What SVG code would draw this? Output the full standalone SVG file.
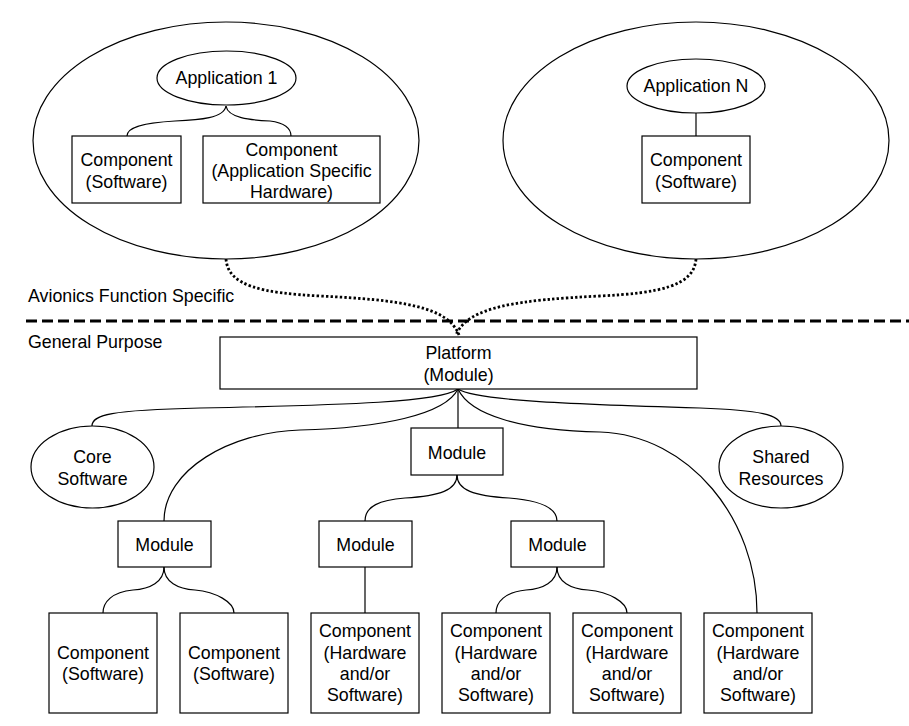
<svg xmlns="http://www.w3.org/2000/svg" width="909" height="726" viewBox="0 0 909 726">
<style>
.n{fill:#fff;stroke:#000;stroke-width:1.2}
.big{fill:none;stroke:#000;stroke-width:1.2}
.c{fill:none;stroke:#000;stroke-width:1.2}
.d{fill:none;stroke:#000;stroke-width:2.8;stroke-dasharray:2.4 2.2}
.t{font-family:"Liberation Sans",Arial,sans-serif;font-size:17.8px;fill:#000;text-anchor:middle}
.l{font-family:"Liberation Sans",Arial,sans-serif;font-size:17.8px;fill:#000}
</style>
<rect width="909" height="726" fill="#fff"/>
<g id="connectors">
<path class="d" d="M226,259 C228,286 262,293 320,296 C400,300 448,306 459,335"/>
<path class="d" d="M696,259 C694,286 660,293 600,296 C520,300 468,306 456,335"/>
<path class="c" d="M226,106 C224,118 200,120 175,121 C140,123 127,128 127,136"/>
<path class="c" d="M226,106 C228,118 250,120 270,121 C285,123 291,128 291,136"/>
<path class="c" d="M696,113 L696,136"/>
<path class="c" d="M458,389 C440,402 350,405 200,408 C110,410 92,415 92,426"/>
<path class="c" d="M458,389 C445,415 380,428 300,430 C230,432 164,470 164,521"/>
<path class="c" d="M458,389 L458,428"/>
<path class="c" d="M458,389 C470,415 520,430 600,432 C690,435 757,520 757,613"/>
<path class="c" d="M458,389 C475,400 560,404 700,408 C760,410 781,415 781,426"/>
<path class="c" d="M457,475 C457,490 440,496 405,498 C380,500 365,506 365,521"/>
<path class="c" d="M457,475 C457,490 474,496 509,498 C534,500 557,506 557,521"/>
<path class="c" d="M164,567 C164,582 150,589 133,590 C112,592 103,602 103,613"/>
<path class="c" d="M164,567 C164,582 178,589 195,590 C216,592 234,602 234,613"/>
<path class="c" d="M365,567 L365,613"/>
<path class="c" d="M557,567 C557,582 543,589 526,590 C505,592 496,602 496,613"/>
<path class="c" d="M557,567 C557,582 571,589 588,590 C609,592 627,602 627,613"/>
<path d="M26,321 L909,321" fill="none" stroke="#000" stroke-width="3" stroke-dasharray="11 5"/>
</g>
<g id="app1-group"><ellipse class="big" cx="226" cy="140.5" rx="193" ry="118.5"/></g>
<g id="appN-group"><ellipse class="big" cx="696" cy="140.5" rx="193" ry="118.5"/></g>
<g id="app1"><ellipse class="n" cx="226.5" cy="78" rx="69.5" ry="27"/><text class="t" x="226.5" y="84">Application 1</text></g>
<g id="app1-sw"><rect class="n" x="72" y="136" width="109" height="67"/><text class="t" x="126.5" y="166">Component</text><text class="t" x="126.5" y="187.5">(Software)</text></g>
<g id="app1-hw"><rect class="n" x="203" y="136" width="177" height="67"/><text class="t" x="291.5" y="155.5">Component</text><text class="t" x="291.5" y="176.5">(Application Specific</text><text class="t" x="291.5" y="197.5">Hardware)</text></g>
<g id="appN"><ellipse class="n" cx="696" cy="86" rx="69" ry="27"/><text class="t" x="696" y="92">Application N</text></g>
<g id="appN-sw"><rect class="n" x="642" y="136" width="108" height="67"/><text class="t" x="696" y="166">Component</text><text class="t" x="696" y="187.5">(Software)</text></g>
<g id="labels"><text class="l" x="28" y="302">Avionics Function Specific</text><text class="l" x="28" y="348">General Purpose</text></g>
<g id="platform"><rect class="n" x="220" y="337" width="477" height="52"/><text class="t" x="458.5" y="359">Platform</text><text class="t" x="458.5" y="381">(Module)</text></g>
<g id="core"><ellipse class="n" cx="92.5" cy="467" rx="61.5" ry="41"/><text class="t" x="92.5" y="463">Core</text><text class="t" x="92.5" y="484.5">Software</text></g>
<g id="shared"><ellipse class="n" cx="781" cy="467" rx="62" ry="41"/><text class="t" x="781" y="463">Shared</text><text class="t" x="781" y="484.5">Resources</text></g>
<g id="module-top"><rect class="n" x="411" y="428" width="92" height="47"/><text class="t" x="457" y="459">Module</text></g>
<g id="module-a"><rect class="n" x="118" y="521" width="93" height="46"/><text class="t" x="164.5" y="551">Module</text></g>
<g id="module-b"><rect class="n" x="319" y="521" width="93" height="46"/><text class="t" x="365.5" y="551">Module</text></g>
<g id="module-c"><rect class="n" x="511" y="521" width="93" height="46"/><text class="t" x="557.5" y="551">Module</text></g>
<g id="comp1"><rect class="n" x="49" y="613" width="108" height="100"/><text class="t" x="103" y="659">Component</text><text class="t" x="103" y="680">(Software)</text></g>
<g id="comp2"><rect class="n" x="180" y="613" width="108" height="100"/><text class="t" x="234" y="659">Component</text><text class="t" x="234" y="680">(Software)</text></g>
<g id="comp3"><rect class="n" x="311" y="613" width="108" height="100"/><text class="t" x="365" y="637">Component</text><text class="t" x="365" y="659">(Hardware</text><text class="t" x="365" y="680">and/or</text><text class="t" x="365" y="701">Software)</text></g>
<g id="comp4"><rect class="n" x="442" y="613" width="108" height="100"/><text class="t" x="496" y="637">Component</text><text class="t" x="496" y="659">(Hardware</text><text class="t" x="496" y="680">and/or</text><text class="t" x="496" y="701">Software)</text></g>
<g id="comp5"><rect class="n" x="573" y="613" width="108" height="100"/><text class="t" x="627" y="637">Component</text><text class="t" x="627" y="659">(Hardware</text><text class="t" x="627" y="680">and/or</text><text class="t" x="627" y="701">Software)</text></g>
<g id="comp6"><rect class="n" x="704" y="613" width="108" height="100"/><text class="t" x="758" y="637">Component</text><text class="t" x="758" y="659">(Hardware</text><text class="t" x="758" y="680">and/or</text><text class="t" x="758" y="701">Software)</text></g>
</svg>
